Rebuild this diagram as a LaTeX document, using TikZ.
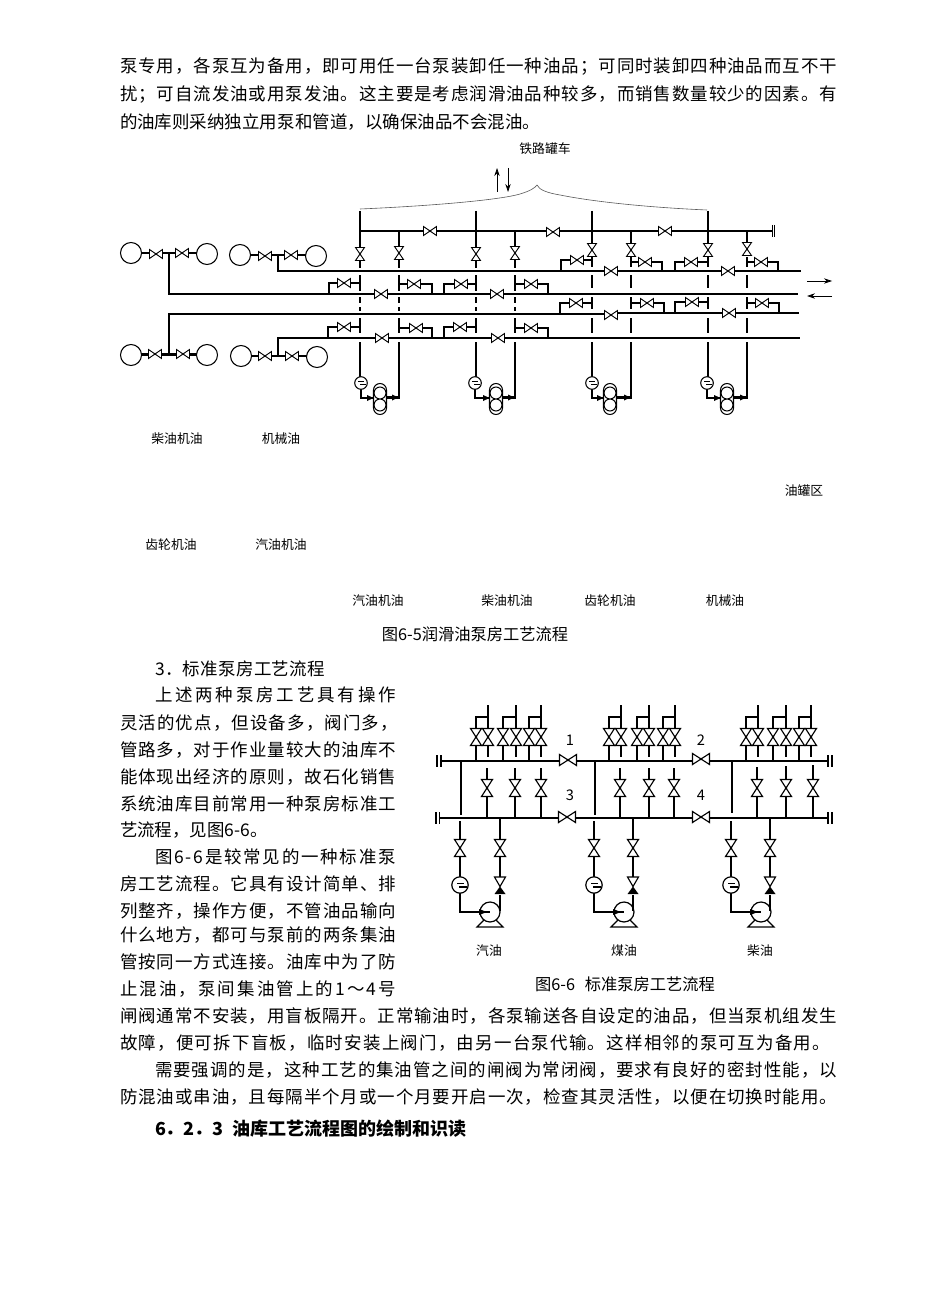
\documentclass[tikz,border=0pt]{standalone}
\usepackage{fontspec}
\setmainfont{Noto Sans CJK SC}
\usetikzlibrary{arrows.meta}
\makeatletter
\newif\ifsc@first
\newcommand\spreadtext[1]{\sc@firsttrue\@tfor\sc@c:=#1\do{\ifsc@first\sc@firstfalse\else\hfil\fi\sc@c}}
\makeatother
\newcommand\bodysize{\fontsize{13.1}{14}\selectfont}
\newcommand\labsize{\fontsize{9.6}{10}\selectfont}
\newcommand\jl[5]{\node[bodyline] (#1) at (#2,#4) {\bodysize\hbox to \dimexpr(#3pt-#2pt)*3/4\relax{\spreadtext{#5}}};}
\tikzset{
  x=.75pt,y=-.75pt,
  pipe/.style={line width=2pt},
  pipethin/.style={line width=.7pt},
  hair/.style={line width=.45pt,draw=black!65},
  bodyline/.style={anchor=west,inner sep=0pt,outer sep=0pt},
  lab/.style={inner sep=0pt,font=\labsize},
  capt/.style={inner sep=0pt,font=\fontsize{12.2}{13}\selectfont},
  digit/.style={inner sep=0pt,font=\fontsize{11}{12}\selectfont},
  tipline/.style={line width=.5pt,-{Stealth[length=6pt,width=4pt]}},
  valve/.pic={
    \fill[white] (-6.5,-4.5) rectangle (6.5,4.5);
    \draw[pipethin,fill=white] (-6.5,-4.5)--(6.5,4.5)--(6.5,-4.5)--(-6.5,4.5)--cycle;
    \fill (0,0) circle (1.2);
  },
  bigvalve/.pic={
    \fill[white] (-8.5,-5.5) rectangle (8.5,5.5);
    \draw[line width=.85pt,fill=white] (-8.5,-5.5)--(8.5,5.5)--(8.5,-5.5)--(-8.5,5.5)--cycle;
    \fill (0,0) circle (1.3);
  },
  filterup/.pic={
    \draw[line width=.8pt,fill=white] (0,0) circle (6.3);
    \draw[line width=.7pt] (-3,-1.6)--(3,-1.6) (-1,1.8)--(5,1.8);
  },
  filterlow/.pic={
    \draw[line width=.9pt,fill=white] (0,0) circle (8.2);
    \draw[line width=.8pt] (-3,-1.8)--(4,-1.8) (-1,2)--(7,2);
  },
  twinpump/.pic={
    \draw[line width=.8pt,fill=white] (-6.5,-9) arc[start angle=180,end angle=360,radius=6.5]
      -- (6.5,9) arc[start angle=0,end angle=180,radius=6.5] -- cycle;
    \draw[line width=.8pt] (0,-6) circle (6) (0,6) circle (6);
  },
  fuelpump/.pic={
    \draw[line width=.9pt] (-6,8)--(-13,15)--(13,15)--(6,8);
    \draw[line width=.9pt,fill=white] (0,0) circle (10);
  },
  checkvalve/.pic={
    \fill[white] (-6,-9.5) rectangle (6,8);
    \draw[line width=.85pt,fill=white] (-5.5,-9.5)--(5.5,-9.5)--(0,0)--cycle;
    \fill (-5.5,7.5)--(5.5,7.5)--(0,0)--cycle;
  },
}
\begin{document}
\begin{tikzpicture}
\useasboundingbox (0,0) rectangle (950,1316);
\fill[white] (0,0) rectangle (950,1316);

% ---------- body text ----------
\jl{t1}{120}{837}{67}{泵专用，各泵互为备用，即可用任一台泵装卸任一种油品；可同时装卸四种油品而互不干}
\jl{t2}{120}{837}{95}{扰；可自流发油或用泵发油。这主要是考虑润滑油品种较多，而销售数量较少的因素。有}
\jl{t3}{120}{540}{122}{的油库则采纳独立用泵和管道，以确保油品不会混油。}
\jl{t4}{155}{325}{669}{3．标准泵房工艺流程}
\jl{t5}{155}{396}{695}{上述两种泵房工艺具有操作}
\jl{t6}{120}{398}{723}{灵活的优点，但设备多，阀门多，}
\jl{t7}{120}{396}{750}{管路多，对于作业量较大的油库不}
\jl{t8}{120}{396}{777}{能体现出经济的原则，故石化销售}
\jl{t9}{120}{396}{804}{系统油库目前常用一种泵房标准工}
\jl{t10}{120}{265}{830}{艺流程，见图6-6。}
\jl{t11}{155}{396}{857}{图6-6是较常见的一种标准泵}
\jl{t12}{120}{396}{884}{房工艺流程。它具有设计简单、排}
\jl{t13}{120}{396}{911}{列整齐，操作方便，不管油品输向}
\jl{t14}{120}{396}{935}{什么地方，都可与泵前的两条集油}
\jl{t15}{120}{396}{962}{管按同一方式连接。油库中为了防}
\jl{t16}{120}{396}{989}{止混油，泵间集油管上的1～4号}
\jl{t17}{120}{837}{1016}{闸阀通常不安装，用盲板隔开。正常输油时，各泵输送各自设定的油品，但当泵机组发生}
\jl{t18}{120}{830}{1043}{故障，便可拆下盲板，临时安装上阀门，由另一台泵代输。这样相邻的泵可互为备用。}
\jl{t19}{155}{837}{1070}{需要强调的是，这种工艺的集油管之间的闸阀为常闭阀，要求有良好的密封性能，以}
\jl{t20}{120}{837}{1097}{防混油或串油，且每隔半个月或一个月要开启一次，检查其灵活性，以便在切换时能用。}
\node[bodyline,font=\fontsize{13.5}{14}\selectfont\bfseries] (t21) at (155,1129) {6．2．3\hspace{.5em}油库工艺流程图的绘制和识读};

% ---------- figure 6-5 labels ----------
\node[lab] (rail) at (545,149) {铁路罐车};
\node[lab] (a1) at (177,439) {柴油机油};
\node[lab] (a2) at (281,439) {机械油};
\node[lab] (a3) at (804,491) {油罐区};
\node[lab] (a4) at (171,545) {齿轮机油};
\node[lab] (a5) at (281,545) {汽油机油};
\node[lab] (a6) at (378,601) {汽油机油};
\node[lab] (a7) at (507,601) {柴油机油};
\node[lab] (a8) at (610,601) {齿轮机油};
\node[lab] (a9) at (725,601) {机械油};
\node[capt] (c65) at (475,634) {图6-5润滑油泵房工艺流程};

% ---------- figure 6-5 brace and arrows ----------
\draw[hair] (360,209) .. controls (430,206) and (500,200) .. (520,194) .. controls (530,191) and (535,188) .. (537,185)
            .. controls (539,190) and (548,193) .. (560,195) .. controls (600,203) and (660,208) .. (707,210);
\draw[tipline] (497,192)--(497,168);
\draw[tipline] (508,168)--(508,192);
\draw[tipline] (807,281)--(832,281);
\draw[tipline] (832,296)--(807,296);

% ---------- figure 6-5 headers ----------
\draw[pipe] (360,231)--(772,231);
\draw[line width=.6pt] (772,225)--(772,237) (774.5,225)--(774.5,237);
\draw[pipe] (278,255)--(278,271)--(801,271);
\draw[pipe] (169,253)--(169,294)--(798,294);
\draw[pipe] (169,355)--(169,314)--(611,314) (611,313)--(799,313);
\draw[pipe] (278,356)--(278,338)--(800,338);

% tank pipes
\draw[pipe] (131,253)--(207,253) (240,255)--(316,255) (131,354.5)--(207,354.5) (241,356)--(317,356);
\foreach \x/\y in {131/253,207/254,240/255,316/256,131/355,207/355,241/356,317/357}
  \draw[line width=.8pt,fill=white] (\x,\y) circle (10.5);
\foreach \x/\y in {156/254,182/253,265/256,291/255,155/354,183/354,265/356,292/356,
  430/231,553/232,665/231,611/271,728/271,381/294,497/294,611/315,729/313,382/338,498/338}
  \pic at (\x,\y) {valve};

% columns
\foreach \a/\b/\ya/\yb in {360/399/254/253,476/515/254/253,592/631/250/250,708/747/250/249}{
  \draw[pipe] (\a,211)--(\a,\ya);
  \draw[pipe] (\b,231)--(\b,\yb);
}
\foreach \x in {360,399,476,515}
  \draw[pipe] (\x,259)--(\x,268) (\x,275)--(\x,291) (\x,297)--(\x,303) (\x,307)--(\x,311) (\x,318)--(\x,333);
\foreach \x in {592,631,708,747}
  \draw[pipe] (\x,257)--(\x,267) (\x,275)--(\x,288) (\x,297)--(\x,309) (\x,318)--(\x,333);
\foreach \x/\y in {360/254,399/253,476/254,515/253,592/250,631/250,708/250,747/249}
  \pic[rotate=90] at (\x,\y) {valve};

% branch valves
\foreach \c/\v/\e/\y/\m/\ye in {
  360/344/329/283/283/294, 399/414/432/284/284/294, 476/461/444/284/284/294, 515/531/548/284/284/294,
  360/344/328/327/327/338, 399/416/432/328/328/338, 476/460/444/327/327/338, 515/531/548/328/328/338,
  592/577/561/260/260/271, 631/645/662/262/262/271, 708/691/675/262/262/271, 747/761/778/262/262/271,
  592/576/560/303/303/314, 631/647/664/303/303/313, 708/692/675/302/302/313, 747/762/779/303/303/313}{
  \draw[pipe] (\c,\y)--(\e,\y)--(\e,\ye);
  \pic at (\v,\m) {valve};
}

% pump sets
\foreach \a/\b/\p/\f in {360/399/380/361,476/515/496/475,592/631/610/592,708/747/727/707}{
  \draw[pipe] (\a,342)--(\a,378) (\f,388)--(\f,398)--(\p,398) (\p,397.5)--(\b,397.5)--(\b,342);
  \pic at (\f,383) {filterup};
  \pic at (\p,399) {twinpump};
  \fill (\p-13,395)--(\p-6.5,398)--(\p-13,401)--cycle;
  \fill (\b-7,394.5)--(\b-0.5,397.5)--(\b-7,400.5)--cycle;
}

% ---------- figure 6-6 ----------
\draw[pipe] (442,761)--(827,761);
\draw[pipe] (440,818)--(827,818);
\draw[line width=.9pt] (437,755)--(437,767) (441,755)--(441,767)
   (436,812)--(436,824) (439.5,812)--(439.5,824)
   (828,755)--(828,767) (832,755)--(832,767)
   (828,812)--(828,824) (832,812)--(832,824);
\draw[pipe] (461,761)--(461,815) (595,761)--(595,815) (732,761)--(732,813);
\foreach \l/\r in {476/488,503/516,529/541,609/621,637/649,663/675,746/758,773/786,799/811}{
  \draw[pipe,line width=1.6pt] (\l,761)--(\l,717)--(\r,717);
  \draw[pipe,line width=1.6pt] (\r,705)--(\r,757);
  \pic[rotate=90] at (\l,737) {bigvalve};
  \pic[rotate=90] at (\r,737) {bigvalve};
}
\foreach \x/\t in {487/768,515/768,541/768,620/768,649/768,674/768,757/767,786/766,813/765}{
  \draw[pipe] (\x,\t)--(\x,818);
  \pic[rotate=90] at (\x,788) {bigvalve};
}
\foreach \x/\y in {568/760,701/759,567/817,701/817}
  \pic at (\x,\y) {bigvalve};

\foreach \l/\r/\u in {460/500/490,594/633/624,731/770/761}{
  \pic at (\u,912) {fuelpump};
  \draw[pipe] (\l,821)--(\l,912)--(\u,912);
  \fill (\u-11,909)--(\u-3,912)--(\u-11,915)--cycle;
  \draw[pipe] (\r,818)--(\r,911);
  \pic[rotate=90] at (\l,848) {bigvalve};
  \pic[rotate=90] at (\r,848) {bigvalve};
  \pic at (\l,885) {filterlow};
  \pic at (\r,886.5) {checkvalve};
}
\node[digit] (n1) at (570,740) {1};
\node[digit] (n2) at (701,740) {2};
\node[digit] (n3) at (570,795) {3};
\node[digit] (n4) at (701,795) {4};
\node[lab] (f1) at (489,951) {汽油};
\node[lab] (f2) at (624,951) {煤油};
\node[lab] (f3) at (760,951) {柴油};
\node[capt] (c66) at (625,984) {图6-6\hspace{.6em}标准泵房工艺流程};
\end{tikzpicture}
\end{document}
